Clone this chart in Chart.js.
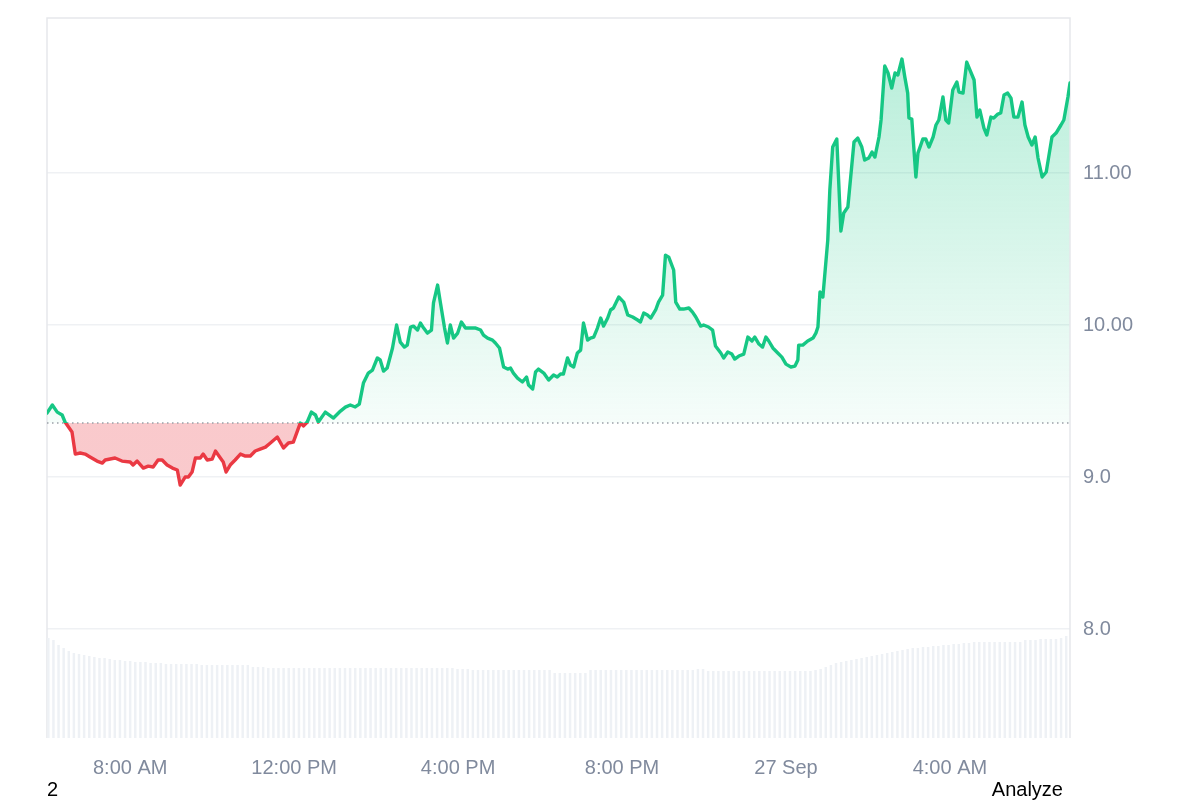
<!DOCTYPE html>
<html><head><meta charset="utf-8">
<script src="https://cdn.jsdelivr.net/npm/chart.js@4/dist/chart.umd.min.js"></script>
<style>
html,body{margin:0;padding:0;background:#fff;width:1200px;height:800px;overflow:hidden;font-family:"Liberation Sans",Arial,sans-serif;}
#wrap{position:absolute;left:0;top:0;width:1200px;height:780px;}
.foot{position:absolute;top:777px;font-size:20px;color:#000;line-height:24px;}
</style></head><body>
<div id="wrap"><canvas id="c" width="1200" height="780"></canvas></div>
<div class="foot" style="left:47px">2</div>
<div class="foot" style="right:137px">Analyze</div>
<script>
// time in hours since 26 Sep 00:00
const times = [5.97,6.10,6.22,6.34,6.41,6.58,6.66,6.78,6.90,7.02,7.19,7.32,7.39,7.63,7.80,8.00,8.07,8.17,8.32,8.44,
8.56,8.68,8.78,8.90,9.03,9.15,9.22,9.34,9.42,9.51,9.59,9.71,9.78,9.88,10.00,10.08,10.20,10.27,10.34,10.44,
10.56,10.69,10.81,10.93,11.05,11.17,11.30,11.42,11.59,11.74,11.86,11.98,12.15,12.23,12.32,12.42,12.52,12.59,12.76,12.96,
13.13,13.25,13.37,13.49,13.59,13.69,13.81,13.91,14.03,14.10,14.18,14.27,14.40,14.50,14.59,14.69,14.76,14.84,14.91,15.01,
15.08,15.16,15.25,15.35,15.40,15.50,15.57,15.67,15.74,15.81,15.89,15.99,16.08,16.18,16.30,16.43,16.55,16.62,16.72,16.84,
16.91,17.01,17.11,17.21,17.28,17.35,17.45,17.57,17.67,17.72,17.82,17.89,17.96,18.09,18.21,18.33,18.42,18.50,18.57,18.67,
18.74,18.82,18.91,18.99,19.06,19.16,19.23,19.31,19.40,19.48,19.55,19.65,19.72,19.79,19.92,20.04,20.14,20.26,20.38,20.45,
20.53,20.62,20.70,20.82,20.89,20.99,21.06,21.14,21.26,21.31,21.41,21.50,21.63,21.72,21.80,21.92,21.99,22.11,22.21,22.28,
22.41,22.48,22.58,22.68,22.75,22.85,22.97,23.07,23.17,23.24,23.34,23.43,23.51,23.58,23.68,23.80,23.90,24.00,24.12,24.22,
24.29,24.31,24.41,24.53,24.66,24.73,24.78,24.83,24.90,25.02,25.07,25.14,25.24,25.34,25.41,25.51,25.66,25.75,25.85,25.92,
26.02,26.10,26.17,26.27,26.32,26.41,26.49,26.58,26.66,26.73,26.83,26.90,26.97,27.00,27.07,27.17,27.22,27.34,27.41,27.49,
27.59,27.66,27.73,27.83,27.90,27.97,28.07,28.17,28.22,28.32,28.41,28.46,28.59,28.66,28.73,28.83,28.90,29.00,29.07,29.17,
29.24,29.32,29.41,29.49,29.56,29.66,29.76,29.83,29.91,30.00,30.08,30.15,30.25,30.35,30.49,30.59,30.71,30.78,30.88,30.93];

const prices = [9.421,9.474,9.427,9.408,9.362,9.296,9.151,9.158,9.151,9.132,9.105,9.092,9.112,9.125,9.105,9.099,9.079,9.105,9.059,9.072,
9.066,9.112,9.112,9.079,9.059,9.046,8.947,9.000,9.000,9.033,9.125,9.125,9.151,9.112,9.118,9.171,9.125,9.099,9.033,9.079,
9.112,9.151,9.138,9.138,9.171,9.184,9.197,9.224,9.263,9.191,9.224,9.230,9.355,9.336,9.362,9.427,9.408,9.362,9.427,9.388,
9.434,9.460,9.474,9.461,9.480,9.618,9.684,9.704,9.783,9.770,9.697,9.717,9.849,10.000,9.888,9.855,9.868,9.987,9.993,9.967,
10.013,9.980,9.947,9.967,10.145,10.263,10.145,9.980,9.882,10.000,9.914,9.947,10.020,9.980,9.980,9.980,9.967,9.934,9.914,9.901,
9.882,9.849,9.724,9.710,9.717,9.684,9.651,9.625,9.658,9.605,9.579,9.691,9.710,9.684,9.638,9.671,9.658,9.678,9.678,9.783,
9.737,9.724,9.816,9.835,10.013,9.901,9.914,9.921,9.980,10.046,9.993,10.046,10.099,10.112,10.184,10.151,10.066,10.053,10.033,10.020,
10.079,10.066,10.046,10.099,10.151,10.197,10.460,10.447,10.362,10.151,10.105,10.105,10.112,10.085,10.053,9.993,10.000,9.987,9.967,9.862,
9.816,9.783,9.822,9.809,9.776,9.796,9.809,9.921,9.895,9.921,9.875,9.855,9.921,9.895,9.849,9.816,9.789,9.743,9.724,9.730,
9.770,9.868,9.868,9.895,9.914,9.947,9.987,10.217,10.184,10.559,10.888,11.171,11.224,10.618,10.737,10.776,11.204,11.230,11.171,11.085,
11.099,11.138,11.105,11.237,11.349,11.704,11.658,11.559,11.658,11.645,11.750,11.631,11.526,11.362,11.355,10.974,11.131,11.224,11.224,11.171,
11.237,11.316,11.349,11.500,11.349,11.329,11.546,11.599,11.533,11.526,11.730,11.697,11.612,11.368,11.414,11.296,11.250,11.368,11.362,11.388,
11.395,11.513,11.526,11.493,11.368,11.368,11.467,11.316,11.237,11.184,11.237,11.099,10.974,11.007,11.237,11.263,11.316,11.349,11.500,11.592];

const baseline = 9.355;

const volumes = [100,98,93,90,87,85,84,83,82,81,80,80,79,
78,78,77,77,76,
76,76,75,75,75,
74,74,74,74,74,74,74,
73,73,73,73,73,73,73,73,73,73,
71,71,71,70,70,70,70,70,70,70,70,70,70,70,70,70,70,70,70,70,70,70,70,70,70,70,70,70,70,70,70,70,70,70,70,70,70,70,70,70,
69,69,69,68,68,68,68,68,68,68,68,68,68,68,68,68,68,68,68,
65,65,65,65,65,65,65,
68,68,68,68,68,68,68,68,68,68,68,68,68,68,68,68,68,68,68,68,68,69,69,
67,67,67,67,67,67,67,67,67,67,67,67,67,67,67,67,67,67,67,67,67,68,
69,71,73,75,76,77,78,79,80,81,82,83,84,85,86,87,88,89,90,90,91,91,92,92,93,93,94,94,95,95,
96,96,96,96,96,96,96,96,96,96,
98,98,98,99,99,99,99,100,
102];

const xTickHours = [8, 12, 16, 20, 24, 28];
const xTickLabels = ['8:00 AM', '12:00 PM', '4:00 PM', '8:00 PM', '27 Sep', '4:00 AM'];
const yTickValues = [8, 9, 10, 11];
const yTickLabels = ['8.0', '9.0', '10.00', '11.00'];

const GREEN = '#16c784', RED = '#ea3943';
const FONT = '"Liberation Sans", Arial, sans-serif';
const TICK_COLOR = '#808a9d';

function splitGradient(chart, aboveTop, aboveBase, below) {
  const a = chart.chartArea;
  const yb = chart.scales.y.getPixelForValue(baseline);
  const g = chart.ctx.createLinearGradient(0, a.top, 0, a.bottom);
  let f = (yb - a.top) / (a.bottom - a.top);
  f = Math.max(0, Math.min(1, f));
  g.addColorStop(0, aboveTop);
  g.addColorStop(f, aboveBase);
  g.addColorStop(f, below);
  g.addColorStop(1, below);
  return g;
}

const framePlugin = {
  id: 'frame',
  beforeDatasetsDraw(chart) {
    const {ctx, chartArea: a} = chart;
    ctx.save();
    ctx.strokeStyle = '#e6e8eb';
    ctx.lineWidth = 1.5;
    ctx.beginPath();
    ctx.moveTo(a.left, a.bottom);
    ctx.lineTo(a.left, a.top);
    ctx.lineTo(a.right, a.top);
    ctx.lineTo(a.right, a.bottom);
    ctx.stroke();
    ctx.restore();
  }
};

const pricePoints = times.map((t, i) => ({x: t, y: prices[i]}));

new Chart(document.getElementById('c'), {
  type: 'line',
  data: {
    datasets: [
      {
        type: 'bar',
        data: volumes,
        xAxisID: 'xVol',
        yAxisID: 'yVol',
        backgroundColor: '#eef1f5',
        barPercentage: 1,
        categoryPercentage: 0.97,
        order: 3
      },
      {
        data: [{x: times[0], y: baseline}, {x: times[times.length - 1], y: baseline}],
        borderColor: '#9aa0a8',
        borderWidth: 1.5,
        borderDash: [1.5, 3.5],
        pointRadius: 0,
        fill: false,
        order: 2
      },
      {
        data: pricePoints,
        borderWidth: 3.4,
        pointRadius: 0,
        tension: 0,
        borderJoinStyle: 'round',
        borderCapStyle: 'round',
        borderColor: (c) => c.chart.chartArea ? splitGradient(c.chart, GREEN, GREEN, RED) : GREEN,
        backgroundColor: (c) => c.chart.chartArea ? splitGradient(c.chart, 'rgba(22,199,132,0.33)', 'rgba(22,199,132,0.04)', 'rgba(234,57,67,0.27)') : 'transparent',
        fill: {value: baseline},
        order: 1
      }
    ]
  },
  options: {
    responsive: false,
    animation: false,
    devicePixelRatio: 1,
    layout: {padding: {left: 47, top: 18, right: 0, bottom: 0}},
    plugins: {
      legend: {display: false},
      tooltip: {enabled: false},
      filler: {drawTime: 'beforeDatasetsDraw'}
    },
    scales: {
      x: {
        type: 'linear',
        min: times[0],
        max: times[times.length - 1],
        grid: {display: false, drawTicks: false},
        border: {display: false},
        afterBuildTicks: (s) => { s.ticks = xTickHours.map(v => ({value: v})); },
        afterFit: (s) => { s.height = 42; s.paddingLeft = 0; s.paddingRight = 0; },
        ticks: {
          autoSkip: false, maxRotation: 0, padding: 18,
          color: TICK_COLOR, font: {size: 20, family: FONT},
          callback: (v) => xTickLabels[xTickHours.indexOf(v)]
        }
      },
      y: {
        position: 'right',
        min: 7.283,
        max: 12.02,
        grid: {color: '#eff1f4', lineWidth: 1.5, drawTicks: false},
        border: {display: false},
        afterBuildTicks: (s) => { s.ticks = yTickValues.map(v => ({value: v})); },
        afterFit: (s) => { s.width = 130; s.paddingTop = 0; s.paddingBottom = 0; },
        ticks: {
          padding: 13,
          color: TICK_COLOR, font: {size: 20, family: FONT},
          callback: (v) => yTickLabels[yTickValues.indexOf(v)]
        }
      },
      xVol: {
        type: 'category',
        labels: volumes.map((v, i) => String(i)),
        display: false,
        offset: true
      },
      yVol: {
        display: false,
        min: 0,
        max: 720
      }
    }
  },
  plugins: [framePlugin]
});
</script>
</body></html>
